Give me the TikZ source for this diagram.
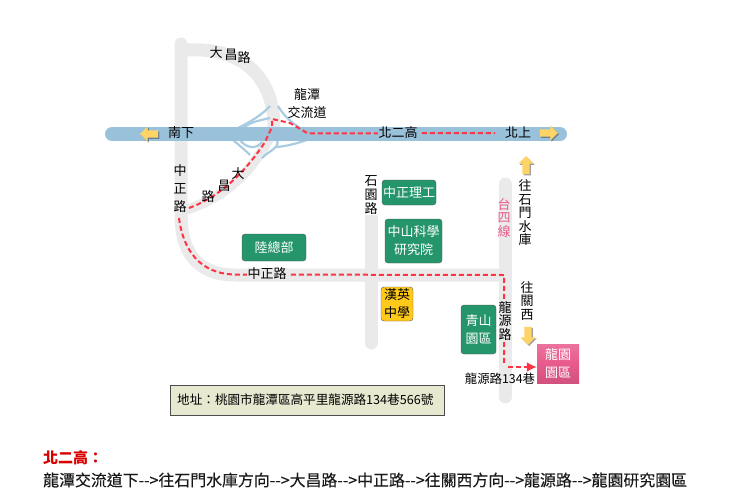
\documentclass[tikz,border=0pt]{standalone}
\usepackage{fontspec}
\setmainfont{Noto Sans CJK TC}
\newfontfamily\wayfont[FakeBold=0.25]{Noto Sans CJK TC}
\usetikzlibrary{shapes.arrows,shadows,arrows.meta}
\definecolor{road}{HTML}{EAEAEA}
\definecolor{freeway}{HTML}{9AC1DA}
\definecolor{ramp}{HTML}{A9CCE2}
\definecolor{route}{HTML}{FF3344}
\definecolor{park}{HTML}{25956B}
\definecolor{school}{HTML}{FFC91A}
\definecolor{pinkpark}{HTML}{E85A8C}
\definecolor{addr}{HTML}{E6E8D0}
\definecolor{arrowy}{HTML}{FFD466}
\tikzset{
  roadline/.style={line width=13pt, color=road, line cap=round},
  rampline/.style={line width=2.2pt, color=ramp},
  routeline/.style={line width=2pt, color=route, dash pattern=on 5pt off 3pt},
  lbl/.style={font=\fontsize{13}{15}\selectfont, inner sep=0pt, align=center},
  greenbox/.style={draw=black!65, fill=park, rounded corners=3pt, text=white, font=\fontsize{13}{18}\selectfont, align=center, inner sep=0pt},
  yarrow/.style={single arrow, fill=arrowy, draw=none, minimum height=18pt, minimum width=15pt, single arrow head extend=3pt, inner sep=2.5pt, drop shadow={shadow xshift=1.2pt, shadow yshift=-1.2pt, fill=black!75}},
}
\begin{document}
\begin{tikzpicture}[x=1pt,y=-1pt]
\useasboundingbox (0,0) rectangle (730,503);
% roads
\draw[roadline] (181,44) -- (181,215) .. controls (181,255) and (200,275) .. (235,275) -- (504,275);
\draw[roadline, line cap=butt] (187,50) .. controls (240,47) and (275,75) .. (274,130);
\draw[roadline, line width=10pt, line cap=butt] (274,130) .. controls (262,150) and (245,190) .. (186,210);
\draw[roadline] (371,205) -- (371,343);
\draw[roadline] (505,184) -- (505,397);
% ramps
\draw[rampline] (238,128) .. controls (250,122) and (262,115) .. (270,106);
\draw[rampline] (243,128) .. controls (252,121) and (262,120) .. (270,118);
\draw[rampline] (278,106) .. controls (285,118) and (295,125) .. (303,130);
\draw[rampline] (233,140) .. controls (240,146) and (245,150) .. (250,155);
\draw[rampline] (240,140) .. controls (246,148) and (256,150) .. (262,142);
\draw[rampline] (277,147) .. controls (288,146) and (298,143) .. (307,140);
\draw[rampline] (262,158) .. controls (270,150) and (280,148) .. (277,140);
% freeway
\draw[line width=14pt, color=freeway, line cap=round] (112,134) -- (560,134);
% route
\coordinate (p0) at (189,208);
\coordinate (p1) at (272,119);
\coordinate (p2) at (308,133.5);
\coordinate (p3) at (495,133);
\coordinate (q0) at (179,218);
\coordinate (q1) at (504,275);
\coordinate (q2) at (504,364);
\coordinate (r0) at (508,367);
\draw[routeline] (p0) .. controls (225,195) and (250,165) .. (265,142) -- (272,127) -- (p1) -- (290,123) -- (p2) -- (p3);
\draw[routeline] (q0) .. controls (183,250) and (200,274) .. (235,274.5) -- (q1) -- (q2);
% arrows
\node[yarrow, shape border rotate=180] (south) at (151,134) {};
\node[yarrow] (north) at (547,133) {};
\node[yarrow, shape border rotate=90] (shimen) at (526,167) {};
\node[yarrow, shape border rotate=270] (guanxi) at (528,334) {};
% places
\node[greenbox, minimum width=54pt, minimum height=25pt] (zhongzheng) at (409,192.5) {中正理工};
\node[greenbox, minimum width=57pt, minimum height=44pt] (zhongshan) at (413.5,241) {中山科學\\研究院};
\node[greenbox, minimum width=64pt, minimum height=27pt] (luzong) at (274,247.5) {陸總部};
\node[greenbox, fill=school, text=black, minimum width=32pt, minimum height=34pt] (hanying) at (397,304) {漢英\\中學};
\node[greenbox, minimum width=35pt, minimum height=49pt] (qingshan) at (478.5,329.5) {青山\\園區};
\node[greenbox, draw=none, rounded corners=0pt, top color=pinkpark!85!white, bottom color=pinkpark!90!black, middle color=pinkpark, minimum width=42pt, minimum height=39pt] (longyuan) at (558,363.5) {龍園\\園區};
\draw[routeline, -{Latex[length=10pt,width=10pt]}] (r0) -- (longyuan.west |- r0);
% labels
\node[lbl] (dc1) at (216,53) {大};
\node[lbl] (dc2) at (231,55) {昌};
\node[lbl] (dc3) at (244,58) {路};
\node[lbl] (dc4) at (238,174) {大};
\node[lbl] (dc5) at (224,186) {昌};
\node[lbl] (dc6) at (208,197) {路};
\node[lbl, font=\fontsize{13}{18}\selectfont] (ic) at (307,104) {龍潭\\交流道};
\node[lbl] (nanxia) at (181,133) {南下};
\node[lbl, fill=freeway, inner xsep=1pt] (beier) at (398,133) {北二高};
\node[lbl] (beishang) at (518,133) {北上};
\node[lbl, font=\fontsize{13}{18}\selectfont] (zzv) at (180,189) {中\\正\\路};
\node[lbl, font=\fontsize{13}{14}\selectfont, fill=white, inner ysep=1pt] (shiyuan) at (371,195) {石\\園\\路};
\node[lbl, text=pinkpark, font=\fontsize{13}{13.5}\selectfont] (tai4) at (504,218) {台\\四\\線};
\node[lbl, font=\fontsize{13}{13.5}\selectfont] (toshimen) at (525,213) {往\\石\\門\\水\\庫};
\node[lbl, font=\fontsize{13}{13.5}\selectfont] (toguanxi) at (527,301) {往\\關\\西};
\node[lbl, font=\fontsize{13}{13.5}\selectfont, fill=road, inner ysep=1pt] (lyv) at (505,321) {龍\\源\\路};
\node[lbl, fill=road, inner xsep=1pt] (zzh) at (267,274) {中正路};
\node[lbl, font=\fontsize{12.4}{15}\selectfont] (lane) at (500,379) {龍源路134巷};
\node[draw=black!70, fill=addr, minimum width=274pt, minimum height=30pt, inner sep=0pt] (address) at (307,400) {};
\node[lbl, anchor=west, font=\fontsize{12.6}{14}\selectfont] (addrtext) at (177,400) {地址：桃園市龍潭區高平里龍源路134巷566號};
\node[anchor=west, inner sep=0pt, text=red!85!black, font=\fontsize{15}{18}\selectfont\bfseries] (ttl) at (43,458) {北二高：};
\node[anchor=west, inner sep=0pt, text=black!90, font=\fontsize{15.9}{18}\selectfont\wayfont] (way) at (43,480) {龍潭交流道下-{}->往石門水庫方向-{}->大昌路-{}->中正路-{}->往關西方向-{}->龍源路-{}->龍園研究園區};
\end{tikzpicture}
\end{document}
